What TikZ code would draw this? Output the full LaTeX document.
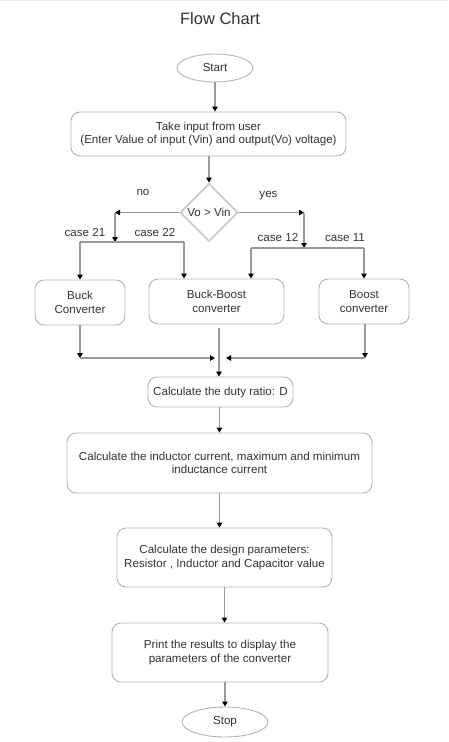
\documentclass[tikz,border=0pt]{standalone}
\usepackage{fontspec}
\setmainfont{Liberation Sans}
\usetikzlibrary{arrows.meta,shapes.geometric}
\definecolor{txt}{HTML}{333333}
\definecolor{bord}{HTML}{B3B3B3}
\definecolor{dia}{HTML}{CCCCCC}
\definecolor{ln}{HTML}{999999}
\begin{document}
\begin{tikzpicture}[x=1pt,y=-1pt,
  bodyfont/.style={font=\fontsize{11.6}{13.4}\selectfont},
  box/.style={draw=bord,line width=0.9pt,rounded corners=9pt,align=center,inner sep=0pt,text=txt,bodyfont},
  term/.style={ellipse,draw=bord,line width=0.9pt,inner sep=0pt,text=txt,bodyfont},
  decision/.style={diamond,draw=dia,line width=1.8pt,inner sep=0pt,aspect=1,minimum width=58pt,minimum height=58pt,text=txt,bodyfont},
  arr/.style={draw=ln,line width=1.3pt,-{Triangle[length=5pt,width=5.5pt,color=black]}},
  plain/.style={draw=ln,line width=1.3pt},
  lbl/.style={text=txt,inner sep=0pt,bodyfont}
]
\useasboundingbox (0,0) rectangle (448,742);
\fill[white] (0,0) rectangle (448,742);
\draw[draw=black!8,line width=1pt] (0,0.5) -- (448,0.5);

\node[text=txt,font=\fontsize{16.5}{18}\selectfont,inner sep=0pt] (title) at (220,19) {Flow Chart};

\node[term,minimum width=76pt,minimum height=28pt] (start) at (215,68) {Start};
\node[box,minimum width=275pt,minimum height=44pt] (inp) at (208.5,134) {Take input from user\\(Enter Value of input (Vin) and output(Vo) voltage)};
\node[decision] (dec) at (209,212.5) {Vo > Vin};

\node[box,minimum width=90pt,minimum height=45pt] (buck) at (80,302.5) {Buck\\Converter};
\node[box,minimum width=135pt,minimum height=45pt] (bb) at (216.5,301.5) {Buck-Boost\\converter};
\node[box,minimum width=90pt,minimum height=45pt] (boost) at (364,301.5) {Boost\\converter};

\node[box,minimum width=145pt,minimum height=30pt] (duty) at (220.5,392) {Calculate the duty ratio: D};
\node[box,minimum width=305pt,minimum height=60pt] (ind) at (219.5,463) {Calculate the inductor current, maximum and minimum\\inductance current};
\node[box,minimum width=215pt,minimum height=59pt] (des) at (224.5,557.5) {Calculate the design parameters:\\Resistor , Inductor and Capacitor value};
\node[box,minimum width=216pt,minimum height=59pt] (prt) at (220,652.5) {Print the results to display the\\parameters of the converter};
\node[term,minimum width=86pt,minimum height=30pt] (stop) at (225,722) {Stop};

\node[lbl] (no) at (143,192) {no};
\node[lbl] (yes) at (268.5,196) {yes};
\node[lbl] (c21) at (85,233) {case 21};
\node[lbl] (c22) at (155,233) {case 22};
\node[lbl] (c12) at (278,238) {case 12};
\node[lbl] (c11) at (345,238) {case 11};

\coordinate (jl) at (115,212.5);
\coordinate (jl2) at (115,242);
\coordinate (jlA) at (80,242);
\coordinate (jlB) at (184,242);
\coordinate (jr) at (304,212.5);
\coordinate (jr2) at (304,248);
\coordinate (jrA) at (251,248);
\coordinate (jrB) at (364,248);
\coordinate (mbl) at (80,358);
\coordinate (mbr) at (365,358);
\coordinate (mtl) at (215,358);
\coordinate (mtr) at (226,358);
\coordinate (bbout) at (219,328);

\draw[arr] (start.south) -- (start.south |- inp.north);
\draw[arr] (inp.south -| dec.north) -- (dec.north);

\draw[arr] (dec.west) -- (jl);
\draw[arr] (jl) -- (jl2);
\draw[plain] (jlA) -- (jlB);
\draw[arr] (jlA) -- (jlA |- buck.north);
\draw[arr] (jlB) -- (jlB |- bb.north);

\draw[arr] (dec.east) -- (jr);
\draw[arr] (jr) -- (jr2);
\draw[plain] (jrA) -- (jrB);
\draw[arr] (jrA) -- (jrA |- bb.north);
\draw[arr] (jrB) -- (jrB |- boost.north);

\draw[arr] (buck.south) -- (mbl);
\draw[arr] (mbl) -- (mtl);
\draw[arr] (mbr |- boost.south) -- (mbr);
\draw[arr] (mbr) -- (mtr);
\draw[arr] (bbout) -- (bbout |- duty.north);

\draw[arr] (duty.south -| ind.north) -- (ind.north);
\draw[arr] (ind.south) -- (ind.south |- des.north);
\draw[arr] (des.south) -- (des.south |- prt.north);
\draw[arr] (stop.north |- prt.south) -- (stop.north);
\end{tikzpicture}
\end{document}
